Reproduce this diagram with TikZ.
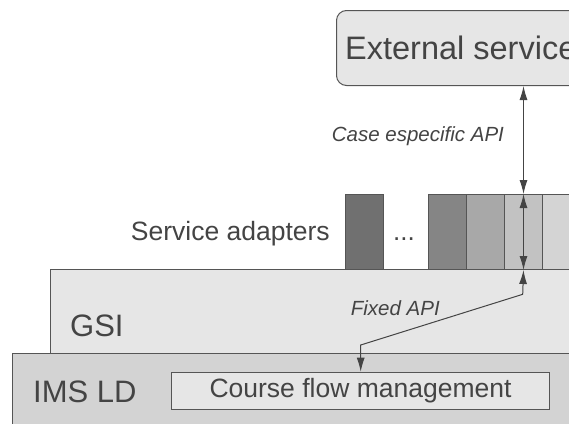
\documentclass[tikz,border=0pt]{standalone}
\usepackage{fontspec}
\setmainfont{Liberation Sans}
\usetikzlibrary{arrows.meta}
\definecolor{ink}{HTML}{444444}
\definecolor{edge}{HTML}{555555}
\definecolor{light}{HTML}{E6E6E6}
\definecolor{mid}{HTML}{D3D3D3}
\tikzset{
  layer/.style={draw=edge, line width=1pt, anchor=north west, inner sep=0pt},
  txt/.style={text=ink, anchor=base west, inner sep=0pt},
  api/.style={draw=ink, line width=1pt, {Latex[length=14pt,width=8pt]}-{Latex[length=14pt,width=8pt]}}
}
\begin{document}
\begin{tikzpicture}[x=1pt, y=-1pt]
    \useasboundingbox (0,0) rectangle (569,423);
    \clip (0,0) rectangle (569,423);

    % External service
    \node[layer, fill=light, rounded corners=10pt, minimum width=300pt, minimum height=75pt] (ext) at (336,10) {};
    \node[txt, font=\fontsize{32.5}{39}\selectfont] (extlbl) at (345,59.3) {External service};

    % Layers
    \node[layer, fill=light, minimum width=560pt, minimum height=84pt] (gsi) at (50,269) {};
    \node[txt, font=\fontsize{31}{37}\selectfont] (gsilbl) at (70,336) {GSI};
    \node[layer, fill=mid, minimum width=600pt, minimum height=90pt] (ims) at (12,353) {};
    \node[txt, font=\fontsize{31}{37}\selectfont] (imslbl) at (33,402.7) {IMS LD};
    \node[layer, fill=light, minimum width=378pt, minimum height=37.5pt] (course) at (171,371.7) {};
    \node[text=ink, font=\fontsize{26.5}{32}\selectfont] (courselbl) at (course.center) {Course flow management};

    % Service adapters
    \node[txt, font=\fontsize{26.5}{32}\selectfont] (adlbl) at (130.7,240) {Service adapters};
    \node[layer, fill=black!56, minimum width=38pt, minimum height=75pt] (a0) at (345,194) {};
    \node[txt, font=\fontsize{26}{31}\selectfont] (dots) at (393,240) {...};
    \foreach \i/\g in {1/48, 2/34, 3/24, 4/17} {
        \node[layer, fill=black!\g, minimum width=38pt, minimum height=75pt] (a\i) at (390+38*\i,194) {};
    }

    % APIs
    \coordinate (k1) at (522.7,294.3);
    \coordinate (k2) at (360.7,345);
    \draw[api] (ext.south -| a3.center) -- (a3.north);
    \draw[api] (a3.north) -- (a3.south);
    \draw[api] (a3.south) -- (k1) -- (k2) -- (k2 |- course.north);
    \node[txt, font=\fontsize{20.5}{25}\selectfont\itshape] (caselbl) at (331.7,141.7) {Case especific API};
    \node[txt, font=\fontsize{20.5}{25}\selectfont\itshape] (fixedlbl) at (350.7,315) {Fixed API};
\end{tikzpicture}
\end{document}
